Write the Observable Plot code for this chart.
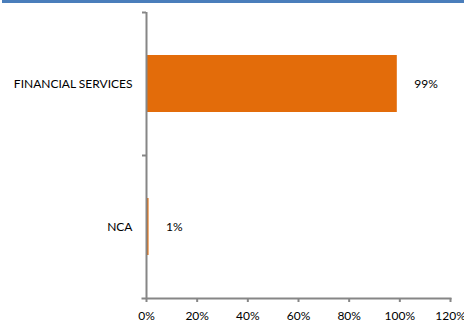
<!DOCTYPE html>
<html>
<head>
<meta charset="utf-8">
<script src="https://cdn.jsdelivr.net/npm/d3@7"></script>
<script src="https://cdn.jsdelivr.net/npm/@observablehq/plot@0.6"></script>
<style>
  html, body { margin: 0; padding: 0; background: #fff; }
  #wrap { position: relative; width: 464px; height: 325px; overflow: hidden; }
  #band { position: absolute; left: 2px; top: 0; width: 462px; height: 3px; background: #4a7ebb; }
</style>
</head>
<body>
<div id="wrap"><div id="band"></div></div>
<script>
const categories = ["FINANCIAL SERVICES", "NCA"];
const shares = [0.99, 0.01];
const xTicks = [0, 0.2, 0.4, 0.6, 0.8, 1.0, 1.2];

const data = categories.map((c, i) => ({category: c, value: shares[i]}));
const fmt = d => Math.round(d * 100) + "%";
const gray = "#868686";
const font = "Lato, 'Open Sans', sans-serif";

const chart = Plot.plot({
  width: 464,
  height: 325,
  marginLeft: 146,
  marginRight: 14,
  marginTop: 12,
  marginBottom: 27,
  style: {fontFamily: font, fontSize: "12px", color: "#000", background: "transparent"},
  x: {domain: [0, 1.2], ticks: xTicks, label: null},
  y: {domain: categories, padding: 0, label: null},
  marks: [
    Plot.barX(data, {x: "value", y: "category", fill: "#e36c0a", insetTop: 43, insetBottom: 43}),
    Plot.text(data, {x: "value", y: "category", text: d => fmt(d.value), textAnchor: "start", dx: 17, fill: "#000"}),
    Plot.ruleX([0], {stroke: gray, strokeWidth: 2}),
    Plot.frame({anchor: "bottom", stroke: gray, strokeWidth: 2, insetLeft: -4}),
    Plot.ruleY(categories, {y: d => d, x1: 0, x2: 0, insetLeft: -4, dy: -71.5, stroke: gray, strokeWidth: 2}),
    Plot.axisY({tickSize: 0, tickPadding: 14, fill: "#000"}),
    Plot.axisX({ticks: xTicks, tickFormat: fmt, tickSize: 4, tickPadding: 9, stroke: gray, strokeWidth: 2, fill: "#000", strokeOpacity: 1})
  ]
});
document.getElementById("wrap").appendChild(chart);
chart.style.position = "absolute";
chart.style.left = "0";
chart.style.top = "0";
</script>
</body>
</html>
